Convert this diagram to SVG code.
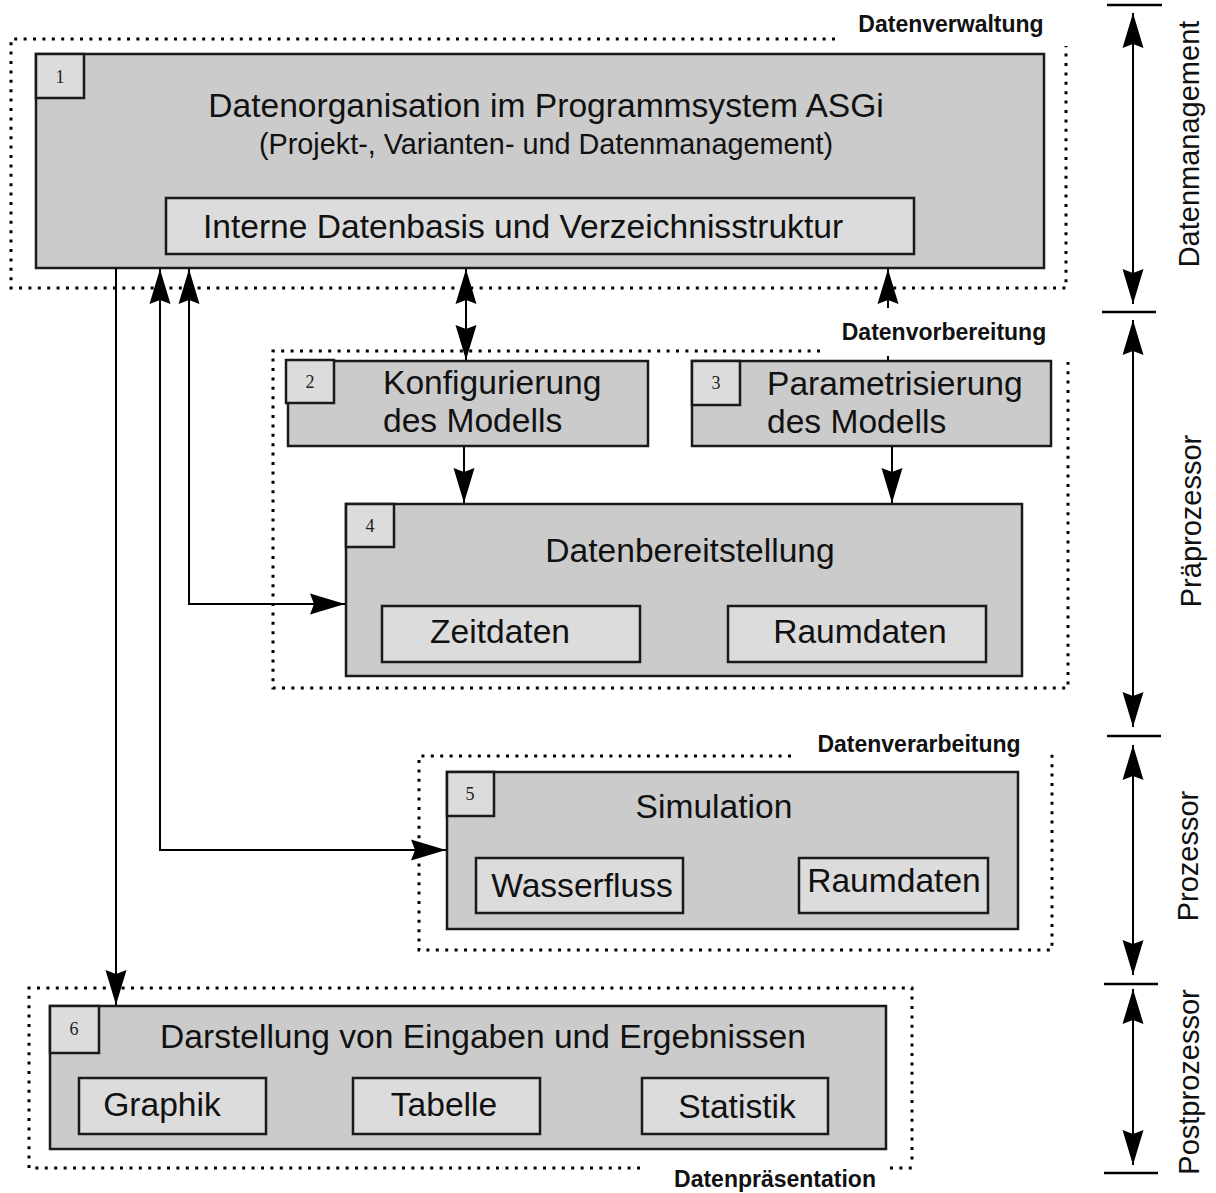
<svg xmlns="http://www.w3.org/2000/svg" width="1216" height="1193" viewBox="0 0 1216 1193">
<style>
.box{fill:#cbcbcb;stroke:#1a1a1a;stroke-width:2.5}
.sub{fill:#dcdcdc;stroke:#1a1a1a;stroke-width:2.5}
.num{fill:#dcdcdc;stroke:#1a1a1a;stroke-width:2.5}
.frame{fill:none;stroke:#000;stroke-width:3;stroke-dasharray:3 6.4}
.t{font-family:"Liberation Sans",Arial,sans-serif;font-size:33.6px;fill:#111}
.ts{font-family:"Liberation Sans",Arial,sans-serif;font-size:28.8px;fill:#111}
.tn{font-family:"Liberation Serif","Times New Roman",serif;font-size:18px;fill:#222;text-anchor:middle}
.lbl{font-family:"Liberation Sans",Arial,sans-serif;font-size:23px;font-weight:bold;fill:#111;text-anchor:middle}
.side{font-family:"Liberation Sans",Arial,sans-serif;font-size:29px;fill:#111;text-anchor:middle}
.mid{text-anchor:middle}
.con{fill:none;stroke:#000;stroke-width:2}
.tick{fill:none;stroke:#000;stroke-width:2.5}
</style>
<defs>
<marker id="ah" viewBox="-36 -11 37 22" refX="0" refY="0" markerWidth="37" markerHeight="22" markerUnits="userSpaceOnUse" orient="auto-start-reverse">
<path d="M0,0 L-35,-10.5 L-31,0 L-35,10.5 Z" fill="#000"/>
</marker>
</defs>

<g id="frames">
<path class="frame" d="M835,39 H11 V288 H1066 V46"/>
<text class="lbl" x="951" y="32">Datenverwaltung</text>
<path class="frame" d="M820,351 H273 V688 H1068 V362"/>
<text class="lbl" x="944" y="340">Datenvorbereitung</text>
<path class="frame" d="M791,756 H419 V950 H1052 V749"/>
<text class="lbl" x="919" y="752">Datenverarbeitung</text>
<path class="frame" d="M640,1168 H29 V988 H912 V1160 M890,1168 H912"/>
<text class="lbl" x="775" y="1187">Datenpräsentation</text>
</g>

<g id="node1">
<rect class="box" x="36" y="54" width="1008" height="214"/>
<rect class="num" x="36" y="54" width="48" height="44"/>
<text class="tn" x="60" y="83">1</text>
<text class="t mid" x="546" y="117">Datenorganisation im Programmsystem ASGi</text>
<text class="ts mid" x="546" y="154">(Projekt-, Varianten- und Datenmanagement)</text>
<rect class="sub" x="166" y="198" width="748" height="56"/>
<text class="t mid" x="523" y="238">Interne Datenbasis und Verzeichnisstruktur</text>
</g>

<g id="node2">
<rect class="box" x="288" y="361" width="360" height="85"/>
<rect class="num" x="286" y="360" width="48" height="43"/>
<text class="tn" x="310" y="388">2</text>
<text class="t" x="383" y="394">Konfigurierung</text>
<text class="t" x="383" y="432">des Modells</text>
</g>

<g id="node3">
<rect class="box" x="692" y="361" width="359" height="85"/>
<rect class="num" x="692" y="361" width="48" height="44"/>
<text class="tn" x="716" y="389">3</text>
<text class="t" x="767" y="395">Parametrisierung</text>
<text class="t" x="767" y="433">des Modells</text>
</g>

<g id="node4">
<rect class="box" x="346" y="504" width="676" height="172"/>
<rect class="num" x="346" y="504" width="48" height="43"/>
<text class="tn" x="370" y="532">4</text>
<text class="t mid" x="690" y="562">Datenbereitstellung</text>
<rect class="sub" x="382" y="606" width="258" height="56"/>
<text class="t mid" x="500" y="643">Zeitdaten</text>
<rect class="sub" x="728" y="606" width="258" height="56"/>
<text class="t mid" x="860" y="643">Raumdaten</text>
</g>

<g id="node5">
<rect class="box" x="447" y="772" width="571" height="157"/>
<rect class="num" x="447" y="772" width="47" height="44"/>
<text class="tn" x="470" y="800">5</text>
<text class="t mid" x="714" y="818">Simulation</text>
<rect class="sub" x="476" y="858" width="207" height="55"/>
<text class="t mid" x="582" y="897">Wasserfluss</text>
<rect class="sub" x="799" y="858" width="189" height="55"/>
<text class="t mid" x="894" y="892">Raumdaten</text>
</g>

<g id="node6">
<rect class="box" x="50" y="1006" width="836" height="143"/>
<rect class="num" x="50" y="1006" width="49" height="47"/>
<text class="tn" x="74" y="1035">6</text>
<text class="t mid" x="483" y="1048">Darstellung von Eingaben und Ergebnissen</text>
<rect class="sub" x="79" y="1078" width="187" height="56"/>
<text class="t mid" x="162" y="1116">Graphik</text>
<rect class="sub" x="353" y="1078" width="187" height="56"/>
<text class="t mid" x="444" y="1116">Tabelle</text>
<rect class="sub" x="642" y="1078" width="186" height="56"/>
<text class="t mid" x="737" y="1118">Statistik</text>
</g>

<g id="connectors">
<path class="con" d="M116,268 V1005" marker-end="url(#ah)"/>
<path class="con" d="M446,850 H160 V269" marker-start="url(#ah)" marker-end="url(#ah)"/>
<path class="con" d="M345,604 H189 V269" marker-start="url(#ah)" marker-end="url(#ah)"/>
<path class="con" d="M466,269 V360" marker-start="url(#ah)" marker-end="url(#ah)"/>
<path class="con" d="M464,447 V503" marker-end="url(#ah)"/>
<path class="con" d="M892,447 V503" marker-end="url(#ah)"/>
<path class="con" d="M888,361 V356 M888,308 V269" marker-end="url(#ah)"/>
</g>

<g id="phases">
<path class="tick" d="M1107,5 H1162 M1102,312 H1156 M1107,736 H1161 M1104,984 H1158 M1104,1173 H1158"/>
<path class="con" d="M1133,13 V304" marker-start="url(#ah)" marker-end="url(#ah)"/>
<path class="con" d="M1133,320 V727" marker-start="url(#ah)" marker-end="url(#ah)"/>
<path class="con" d="M1133,745 V975" marker-start="url(#ah)" marker-end="url(#ah)"/>
<path class="con" d="M1133,989 V1165" marker-start="url(#ah)" marker-end="url(#ah)"/>
<text class="side" transform="translate(1199,144) rotate(-90)">Datenmanagement</text>
<text class="side" transform="translate(1201,521) rotate(-90)">Präprozessor</text>
<text class="side" transform="translate(1198,856) rotate(-90)">Prozessor</text>
<text class="side" transform="translate(1199,1082) rotate(-90)">Postprozessor</text>
</g>
</svg>
